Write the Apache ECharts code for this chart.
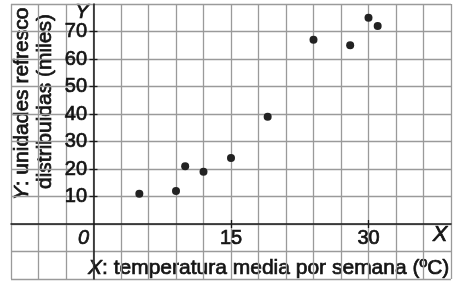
<!DOCTYPE html>
<html><head><meta charset="utf-8">
<script src="https://cdn.jsdelivr.net/npm/echarts@6/dist/echarts.min.js"></script>
<style>html,body{margin:0;padding:0;background:#fff}#c{width:454px;height:282px}</style>
</head><body><div id="c"></div>
<script>
const temperatura = [5, 9, 10, 12, 15, 19, 24, 28, 30, 31];
const refrescos = [11, 12, 21, 19, 24, 39, 67, 65, 75, 72];
const xTickLabels = [0, 15, 30];
const yTickLabels = [10, 20, 30, 40, 50, 60, 70];
const xTickMarks = [15, 30];
const xTitle = 'temperatura media por semana (ºC)';
const yTitle1 = 'unidades refresco';
const yTitle2 = 'distribuidas (miles)';

const FONT = '"Liberation Sans", Arial, sans-serif';
const INK = '#141414';
const BW = 0.7;
const chart = echarts.init(document.getElementById('c'), null, {renderer: 'canvas'});
const gridLine = {color: '#9a9a9a', width: 1.3};
const tickStyle = {color: '#1a1a1a', width: 1.3};
const txt = (extra) => Object.assign({fontFamily: FONT, fill: INK, stroke: INK, lineWidth: BW}, extra);
const tickAxis = (dim, vals, inside) => ({
  type: 'value', min: dim === 'x' ? -9 : -20, max: dim === 'x' ? 39 : 80,
  position: dim === 'x' ? 'bottom' : 'left',
  axisLine: {show: false, onZero: true, onZeroAxisIndex: 0},
  axisTick: {show: true, inside: inside, length: 4, customValues: vals, lineStyle: tickStyle},
  splitLine: {show: false}, axisLabel: {show: false}
});
chart.setOption({
  animation: false,
  backgroundColor: '#fff',
  grid: {left: 11, right: 3, top: 4, bottom: 3, containLabel: false, outerBoundsMode: 'none'},
  xAxis: [{
    type: 'value', min: -9, max: 39, interval: 3,
    axisLine: {onZero: true, onZeroAxisIndex: 0, lineStyle: {color: '#1a1a1a', width: 1.5}},
    axisTick: {show: false},
    splitLine: {show: true, lineStyle: gridLine},
    axisLabel: {
      margin: -51, fontSize: 20, color: INK, fontFamily: FONT, textBorderColor: INK, textBorderWidth: BW,
      showMinLabel: true, showMaxLabel: true, hideOverlap: false,
      formatter: v => v === 0 ? '{z|0}' : (xTickLabels.indexOf(v) >= 0 ? String(v) : ''),
      rich: {z: {fontStyle: 'italic', fontSize: 20, color: INK, fontFamily: FONT, textBorderColor: INK, textBorderWidth: BW, padding: [0, 20, 0, 0]}}
    }
  }, tickAxis('x', xTickMarks, true), tickAxis('x', xTickMarks, false)],
  yAxis: [{
    type: 'value', min: -20, max: 80, interval: 10,
    axisLine: {onZero: true, onZeroAxisIndex: 0, lineStyle: {color: '#1a1a1a', width: 1.5}},
    axisTick: {show: false},
    splitLine: {show: true, lineStyle: gridLine},
    axisLabel: {
      margin: -76, fontSize: 20, color: INK, fontFamily: FONT, textBorderColor: INK, textBorderWidth: BW,
      showMinLabel: true, showMaxLabel: true, hideOverlap: false,
      formatter: v => yTickLabels.indexOf(v) >= 0 ? String(v) : ''
    }
  }, tickAxis('y', yTickLabels, true), tickAxis('y', yTickLabels, false)],
  series: [{
    type: 'scatter', xAxisIndex: 0, yAxisIndex: 0,
    data: temperatura.map((t, i) => [t, refrescos[i]]),
    symbolSize: 8,
    itemStyle: {color: '#222', opacity: 1}
  }],
  graphic: [
    {type: 'text', x: 82, y: 12, style: txt({text: 'Y', fontSize: 21, fontStyle: 'italic', align: 'center', verticalAlign: 'middle'})},
    {type: 'text', x: 440, y: 235, style: txt({text: 'X', fontSize: 22, fontStyle: 'italic', align: 'center', verticalAlign: 'middle'})},
    {type: 'text', x: 88, y: 268, style: txt({
      text: '{i|X}{n|: ' + xTitle + '}', verticalAlign: 'middle', align: 'left',
      rich: {i: txt({fontSize: 21, fontStyle: 'italic'}), n: txt({fontSize: 21})}
    })},
    {type: 'text', x: 22.5, y: 104, rotation: Math.PI / 2, style: txt({
      text: '{i|Y}{n|: ' + yTitle1 + '}', verticalAlign: 'middle', align: 'center',
      rich: {i: txt({fontSize: 21, fontStyle: 'italic'}), n: txt({fontSize: 21})}
    })},
    {type: 'text', x: 45, y: 101.5, rotation: Math.PI / 2, style: txt({
      text: yTitle2, verticalAlign: 'middle', align: 'center', fontSize: 21
    })}
  ]
});
</script></body></html>
